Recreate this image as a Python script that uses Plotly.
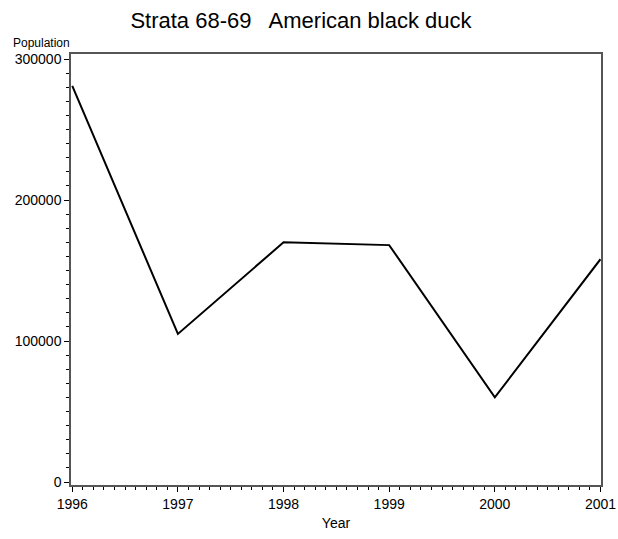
import plotly.graph_objects as go

years = [1996, 1997, 1998, 1999, 2000, 2001]
population = [281000, 105000, 170000, 168000, 60000, 158000]
y_ticks = [0, 100000, 200000, 300000]
x_ticks = [1996, 1997, 1998, 1999, 2000, 2001]

FONT = "Liberation Sans, Arial, sans-serif"

fig = go.Figure()
fig.add_trace(go.Scatter(x=years, y=population, mode="lines",
                         line=dict(color="black", width=2), showlegend=False))

fig.update_layout(
    width=618, height=539,
    margin=dict(l=71, r=17, t=54, b=54),
    paper_bgcolor="white", plot_bgcolor="white",
    font=dict(family=FONT, color="black", size=14),
    title=dict(text="Strata 68-69   American black duck", x=0.487, xanchor="center",
               y=0.963, yanchor="middle", font=dict(size=22, family=FONT, color="black")),
    xaxis=dict(range=[1995.988, 2001.005], tickvals=x_ticks, ticktext=[str(v) for v in x_ticks],
               showgrid=False, zeroline=False, showline=True, linecolor="#555555", linewidth=1.5,
               mirror=True, ticks="outside", ticklen=5, tickcolor="black", automargin=False,
               minor=dict(dtick=0.1, ticks="outside", ticklen=3, tickcolor="black", showgrid=False),
               title=dict(text="Year", font=dict(size=14), standoff=8),
               tickfont=dict(size=14)),
    yaxis=dict(range=[-2128, 303546], tickvals=y_ticks, ticktext=[str(v) for v in y_ticks],
               showgrid=False, zeroline=False, showline=True, linecolor="#555555", linewidth=1.5,
               mirror=True, ticks="outside", ticklen=5, tickcolor="black", automargin=False,
               minor=dict(dtick=10000, ticks="outside", ticklen=3, tickcolor="black", showgrid=False),
               tickfont=dict(size=14)),
    annotations=[dict(text="Population", xref="paper", yref="paper", x=0.0, y=1.0,
                      xanchor="right", yanchor="bottom", yshift=3, borderpad=0, showarrow=False,
                      font=dict(size=12, family=FONT, color="black"))],
)

fig.write_html("out.html", config={"displayModeBar": False},
               post_script="document.body.style.margin='0';document.body.style.overflow='hidden';")
